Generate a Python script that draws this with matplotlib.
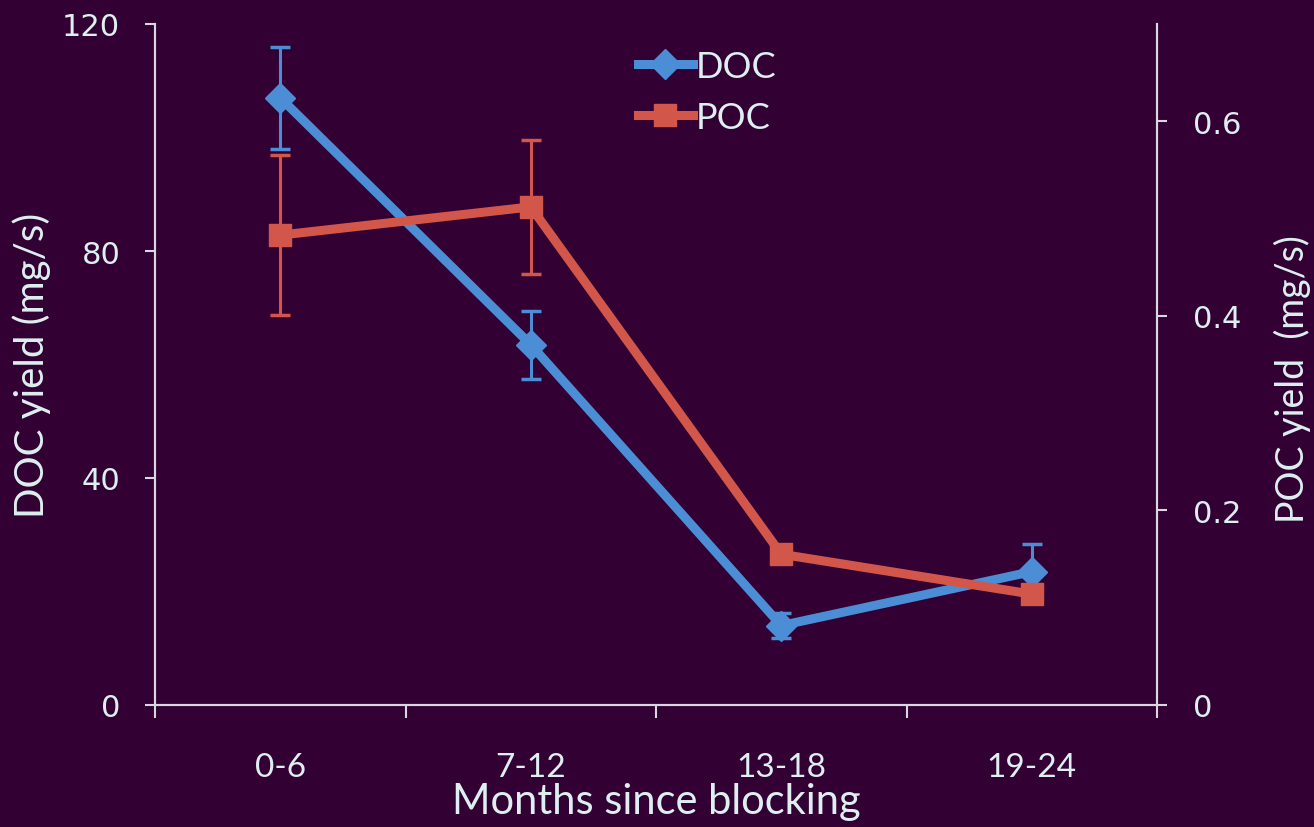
import numpy as np
import matplotlib
matplotlib.use('Agg')
import matplotlib.pyplot as plt
from matplotlib.lines import Line2D

# data
periods = ['0-6', '7-12', '13-18', '19-24']
doc = [107.0, 63.5, 14.0, 23.5]
doc_err = [9.0, 6.0, 2.2, 4.8]
poc = [0.483, 0.512, 0.155, 0.114]
poc_err = [0.082, 0.069, 0.008, 0.006]

bg = '#330033'
fg = '#DDEFF0'
spine = '#D8D8E4'
blue = '#4C8ED6'
red = '#D2574A'
lab_font = ['Lato', 'DejaVu Sans']
num_font = ['DejaVu Sans']

fig = plt.figure(figsize=(13.14, 8.28), dpi=100, facecolor=bg)
ax = fig.add_axes([155/1314, 1-706/828, (1157-155)/1314, (706-25)/828])
ax.set_facecolor(bg)
ax2 = ax.twinx()

x = np.arange(len(periods))
ax.errorbar(x, doc, yerr=doc_err, color=blue, lw=6.5, marker='D', ms=15,
            elinewidth=2.2, capsize=7, capthick=2.5)
ax2.errorbar(x, poc, yerr=poc_err, color=red, lw=6.5, marker='s', ms=16,
             elinewidth=2.2, capsize=7, capthick=2.5)

ax.set_xlim(-0.5, 3.5)
ax.set_ylim(0, 120)
ax2.set_ylim(0, 0.7)
ax.set_yticks([0, 40, 80, 120])
ax2.set_yticks([0, 0.2, 0.4, 0.6])
ax2.set_yticklabels(['0', '0.2', '0.4', '0.6'])

# category boundaries get the tick marks, labels sit at category centres
ax.set_xticks(np.arange(-0.5, 4, 1))
ax.set_xticklabels([])
ax.set_xticks(x, minor=True)
ax.set_xticklabels(periods, minor=True, fontsize=24, family=lab_font, color=fg)
ax.tick_params(axis='x', which='major', length=9, width=1.5, color=spine, direction='out')
ax.tick_params(axis='x', which='minor', length=0, pad=34)

ax.tick_params(axis='y', length=7, width=1.5, color=spine, pad=18, labelsize=22, labelcolor=fg)
ax2.tick_params(axis='y', length=7, width=1.5, color=spine, pad=19, labelsize=22, labelcolor=fg)
for t in ax.get_yticklabels() + ax2.get_yticklabels():
    t.set_family(num_font)

for a in (ax, ax2):
    for s in a.spines.values():
        s.set_color(spine)
        s.set_linewidth(1.5)
    a.spines['top'].set_visible(False)

ax.set_xlabel('Months since blocking', fontsize=30, family=lab_font, color=fg, labelpad=0)
ax.set_ylabel('DOC yield (mg/s)', fontsize=29, family=lab_font, color=fg, labelpad=8)
ax2.set_ylabel('POC yield  (mg/s)', fontsize=27, family=lab_font, color=fg)
ax2.yaxis.set_label_coords(1.117, 0.48)

handles = [Line2D([], [], color=blue, lw=6.5, marker='D', ms=15),
           Line2D([], [], color=red, lw=6.5, marker='s', ms=16)]
leg = ax2.legend(handles, ['DOC', 'POC'], loc='upper left', bbox_to_anchor=(0.45, 1.01),
                 frameon=False, handlelength=1.5, handletextpad=0.1,
                 labelspacing=0.5, prop={'family': lab_font, 'size': 26})
for t in leg.get_texts():
    t.set_color(fg)

fig.savefig('out.png', dpi=100, facecolor=bg)
